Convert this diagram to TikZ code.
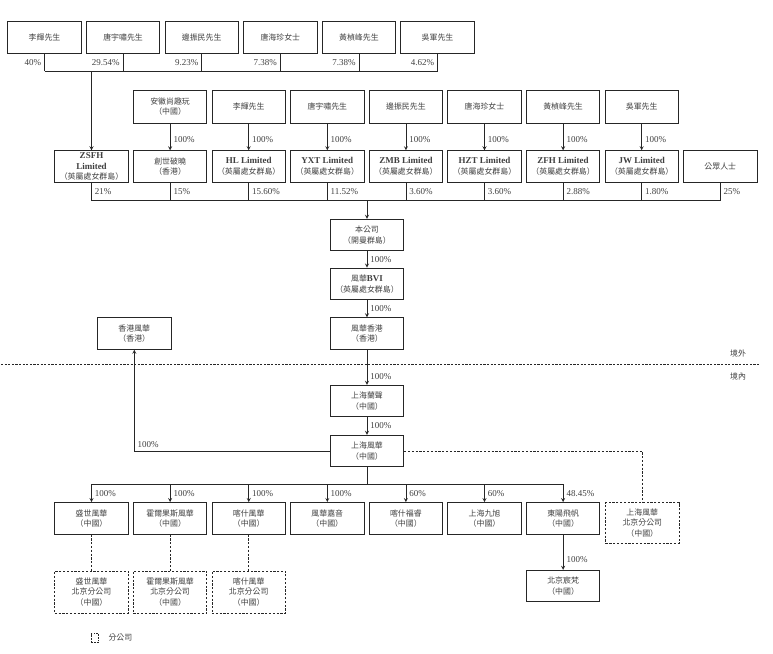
\documentclass[tikz,border=0pt]{standalone}
\usepackage{fontspec}
\setmainfont{Liberation Serif}
\newfontfamily\cjk[Scale=0.88]{Noto Sans CJK TC}
\usepackage{tikz}
\tikzstyle{every node}=[font=\fontsize{9}{10.5}\selectfont,text=black!75]
\tikzstyle{entity}=[draw=black!85,line width=0.9pt,minimum width=73.5pt,minimum height=31.5pt,inner sep=1pt,align=center,font=\fontsize{9}{10.5}\selectfont\cjk]
\tikzstyle{branch}=[entity,dash pattern=on 2.2pt off 1.6pt,minimum height=42pt]
\tikzstyle{link}=[draw=black!85,line width=0.8pt]
\tikzstyle{pct}=[inner sep=3pt]
\newcommand{\lat}[1]{{\rmfamily\bfseries #1}}

\begin{document}
\begin{tikzpicture}[x=1pt,y=-1pt,>=stealth]
\useasboundingbox (0,0) rectangle (773,653);
% shareholders of ZSFH
\draw (44.5,37.5)node (s1)[entity]{李輝先生};
\draw (123.1,37.5)node (s2)[entity]{唐宇嘯先生};
\draw (201.7,37.5)node (s3)[entity]{邊振民先生};
\draw (280.3,37.5)node (s4)[entity]{唐海珍女士};
\draw (358.9,37.5)node (s5)[entity]{黃楨峰先生};
\draw (437.5,37.5)node (s6)[entity]{吳軍先生};
\coordinate (topbar) at (0,71);
\draw[link] (s1) -- node[pct,left]{40\%} (s1|-topbar);
\draw[link] (s2) -- node[pct,left]{29.54\%} (s2|-topbar);
\draw[link] (s3) -- node[pct,left]{9.23\%} (s3|-topbar);
\draw[link] (s4) -- node[pct,left]{7.38\%} (s4|-topbar);
\draw[link] (s5) -- node[pct,left]{7.38\%} (s5|-topbar);
\draw[link] (s6) -- node[pct,left]{4.62\%} (s6|-topbar);
\draw[link] (s1|-topbar) -- (s6|-topbar);
% holding vehicles
\draw (91.5,166.5)node (h0)[entity]{\lat{ZSFH}\\\lat{Limited}\\（英屬處女群島）};
\draw (170.1,166.5)node (h1)[entity]{創世破曉\\（香港）};
\draw (248.7,166.5)node (h2)[entity]{\lat{HL Limited}\\（英屬處女群島）};
\draw (327.3,166.5)node (h3)[entity]{\lat{YXT Limited}\\（英屬處女群島）};
\draw (405.9,166.5)node (h4)[entity]{\lat{ZMB Limited}\\（英屬處女群島）};
\draw (484.5,166.5)node (h5)[entity]{\lat{HZT Limited}\\（英屬處女群島）};
\draw (563.1,166.5)node (h6)[entity]{\lat{ZFH Limited}\\（英屬處女群島）};
\draw (641.7,166.5)node (h7)[entity]{\lat{JW Limited}\\（英屬處女群島）};
\draw (720.3,166.5)node (h8)[entity]{公眾人士};
\draw[link,->] (h0|-topbar) -- (h0);
\draw (170.1,106.5)node (o1)[entity,minimum height=33pt]{安徽尚趣玩\\（中國）};
\draw (248.7,106.5)node (o2)[entity,minimum height=33pt]{李輝先生};
\draw (327.3,106.5)node (o3)[entity,minimum height=33pt]{唐宇嘯先生};
\draw (405.9,106.5)node (o4)[entity,minimum height=33pt]{邊振民先生};
\draw (484.5,106.5)node (o5)[entity,minimum height=33pt]{唐海珍女士};
\draw (563.1,106.5)node (o6)[entity,minimum height=33pt]{黃楨峰先生};
\draw (641.7,106.5)node (o7)[entity,minimum height=33pt]{吳軍先生};
\draw[link,->] (o1) -- node[pct,right,pos=0.6]{100\%} (h1);
\draw[link,->] (o2) -- node[pct,right,pos=0.6]{100\%} (h2);
\draw[link,->] (o3) -- node[pct,right,pos=0.6]{100\%} (h3);
\draw[link,->] (o4) -- node[pct,right,pos=0.6]{100\%} (h4);
\draw[link,->] (o5) -- node[pct,right,pos=0.6]{100\%} (h5);
\draw[link,->] (o6) -- node[pct,right,pos=0.6]{100\%} (h6);
\draw[link,->] (o7) -- node[pct,right,pos=0.6]{100\%} (h7);
\coordinate (midbar) at (0,200.7);
\draw[link] (h0) -- node[pct,right]{21\%} (h0|-midbar);
\draw[link] (h1) -- node[pct,right]{15\%} (h1|-midbar);
\draw[link] (h2) -- node[pct,right]{15.60\%} (h2|-midbar);
\draw[link] (h3) -- node[pct,right]{11.52\%} (h3|-midbar);
\draw[link] (h4) -- node[pct,right]{3.60\%} (h4|-midbar);
\draw[link] (h5) -- node[pct,right]{3.60\%} (h5|-midbar);
\draw[link] (h6) -- node[pct,right]{2.88\%} (h6|-midbar);
\draw[link] (h7) -- node[pct,right]{1.80\%} (h7|-midbar);
\draw[link] (h8) -- node[pct,right]{25\%} (h8|-midbar);
\draw[link] (h0|-midbar) -- (h8|-midbar);
% the company and its chain
\draw (367,235)node (co)[entity]{本公司\\（開曼群島）};
\draw (367,283.8)node (bvi)[entity]{風華\lat{BVI}\\（英屬處女群島）};
\draw (367,333.5)node (fhhk)[entity]{風華香港\\（香港）};
\draw (134.3,333.5)node (hkfh)[entity]{香港風華\\（香港）};
\draw (367,401)node (shls)[entity]{上海蘭聲\\（中國）};
\draw (367,451)node (shfh)[entity]{上海風華\\（中國）};
\draw[link,->] (co|-midbar) -- (co);
\draw[link,->] (co) -- node[pct,right]{100\%} (bvi);
\draw[link,->] (bvi) -- node[pct,right]{100\%} (fhhk);
\draw[link,->] (fhhk) -- node[pct,right,pos=0.76]{100\%} (shls);
\draw[link,->] (shls) -- node[pct,right]{100\%} (shfh);
\draw[link,->] (shfh.west) -- (hkfh|-shfh.west) -- (hkfh);
\node (hkpct)[pct,anchor=south west] at (hkfh|-shfh.west) {100\%};
% border line
\draw[black!85,line width=0.8pt,dash pattern=on 2.2pt off 1.4pt] (1,364) -- (759,364);
\node (out)[font=\fontsize{9}{10.5}\selectfont\cjk] at (738,353) {境外};
\node (in)[font=\fontsize{9}{10.5}\selectfont\cjk] at (738,376) {境內};
% subsidiaries
\draw (91.5,518.3)node (c1)[entity]{盛世風華\\（中國）};
\draw (170.1,518.3)node (c2)[entity]{霍爾果斯風華\\（中國）};
\draw (248.7,518.3)node (c3)[entity]{喀什風華\\（中國）};
\draw (327.3,518.3)node (c4)[entity]{風華嘉音\\（中國）};
\draw (405.9,518.3)node (c5)[entity]{喀什福睿\\（中國）};
\draw (484.5,518.3)node (c6)[entity]{上海九旭\\（中國）};
\draw (563.1,518.3)node (c7)[entity]{東陽飛帆\\（中國）};
\draw (642.3,523)node (bj0)[branch,minimum height=40.6pt]{上海風華\\北京分公司\\（中國）};
\draw[link,dash pattern=on 2.2pt off 1.6pt] (shfh.east) -- (bj0|-shfh.east) -- (bj0);
\coordinate (fork) at (0,484.3);
\draw[link] (shfh) -- (shfh|-fork);
\draw[link] (c1|-fork) -- (c7|-fork);
\draw[link,->] (c1|-fork) -- node[pct,right]{100\%} (c1);
\draw[link,->] (c2|-fork) -- node[pct,right]{100\%} (c2);
\draw[link,->] (c3|-fork) -- node[pct,right]{100\%} (c3);
\draw[link,->] (c4|-fork) -- node[pct,right]{100\%} (c4);
\draw[link,->] (c5|-fork) -- node[pct,right]{60\%} (c5);
\draw[link,->] (c6|-fork) -- node[pct,right]{60\%} (c6);
\draw[link,->] (c7|-fork) -- node[pct,right]{48.45\%} (c7);
% branch offices
\draw (91.5,592)node (bj1)[branch]{盛世風華\\北京分公司\\（中國）};
\draw (170.1,592)node (bj2)[branch]{霍爾果斯風華\\北京分公司\\（中國）};
\draw (248.7,592)node (bj3)[branch]{喀什風華\\北京分公司\\（中國）};
\draw[link,dash pattern=on 2.2pt off 1.6pt] (c1) -- (bj1);
\draw[link,dash pattern=on 2.2pt off 1.6pt] (c2) -- (bj2);
\draw[link,dash pattern=on 2.2pt off 1.6pt] (c3) -- (bj3);
\draw (563.1,586)node (bjcf)[entity]{北京宸梵\\（中國）};
\draw[link,->] (c7) -- node[pct,right,pos=0.7]{100\%} (bjcf);
% legend
\draw (95,638)node (leg)[draw=black!85,line width=0.8pt,dash pattern=on 1.6pt off 1.2pt,minimum width=7.4pt,minimum height=8.7pt,inner sep=0pt]{};
\node (legtxt)[anchor=west,font=\fontsize{9}{10.5}\selectfont\cjk] at (105,638) {分公司};
\end{tikzpicture}
\end{document}
